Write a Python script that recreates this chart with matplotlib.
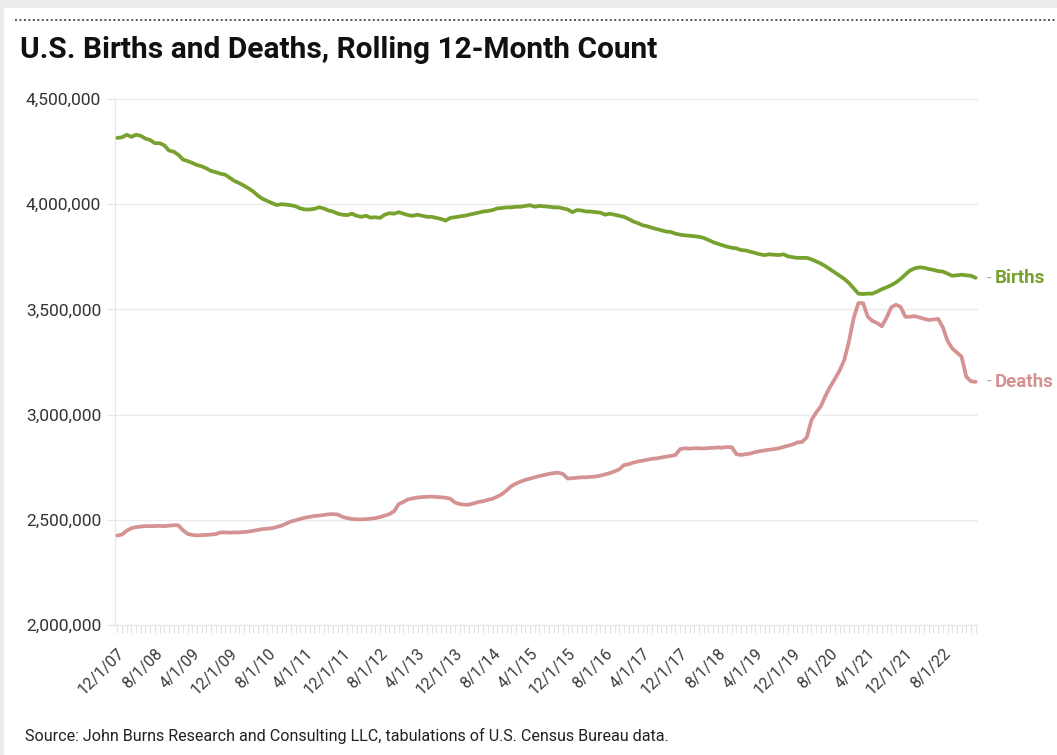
import numpy as np
import pandas as pd
import matplotlib
matplotlib.use("Agg")
import matplotlib.pyplot as plt
from matplotlib.ticker import FuncFormatter
from matplotlib.transforms import ScaledTranslation

plt.rcParams['font.family'] = ['Roboto', 'DejaVu Sans']

# monthly, 12/2007 .. 3/2023, rolling 12-month counts (thousands)
months = pd.date_range('2007-12-01', '2023-03-01', freq='MS')

births = [
    4315, 4318, 4330, 4320, 4330, 4325, 4312, 4305, 4290, 4290,
    4280, 4255, 4250, 4235, 4212, 4205, 4196, 4186, 4180, 4170,
    4158, 4152, 4145, 4140, 4125, 4110, 4100, 4088, 4075, 4060,
    4040, 4025, 4015, 4005, 3996, 4000, 3998, 3995, 3990, 3980,
    3975, 3975, 3978, 3985, 3980, 3970, 3965, 3955, 3950, 3948,
    3955, 3945, 3940, 3945, 3936, 3938, 3935, 3950, 3957, 3955,
    3962, 3955, 3948, 3945, 3950, 3945, 3940, 3940, 3935, 3930,
    3922, 3935, 3938, 3942, 3945, 3950, 3955, 3960, 3965, 3968,
    3972, 3980, 3982, 3985, 3985, 3988, 3988, 3992, 3995, 3988,
    3992, 3990, 3988, 3985, 3985, 3980, 3975, 3962, 3972, 3970,
    3965, 3965, 3962, 3960, 3950, 3955, 3950, 3945, 3940, 3930,
    3918, 3910, 3900, 3895, 3888, 3882, 3876, 3870, 3868, 3860,
    3855, 3852, 3850, 3848, 3845, 3840, 3830, 3820, 3812, 3805,
    3798, 3793, 3790, 3782, 3780, 3774, 3768, 3762, 3758, 3762,
    3760, 3758, 3762, 3752, 3748, 3745, 3745, 3745, 3738, 3728,
    3718, 3705, 3690, 3675, 3660, 3645, 3625, 3600, 3575, 3573,
    3575, 3575, 3585, 3596, 3605, 3615, 3628, 3645, 3665, 3685,
    3695, 3700, 3698, 3692, 3688, 3682, 3680, 3670, 3660, 3662,
    3665, 3662, 3660, 3650,
]

deaths = [
    2425, 2430, 2448, 2460, 2465, 2468, 2470, 2470, 2470, 2471,
    2470, 2472, 2474, 2474, 2450, 2433, 2428, 2426, 2427, 2428,
    2430, 2432, 2440, 2440, 2439, 2440, 2440, 2442, 2444, 2448,
    2452, 2456, 2458, 2460, 2466, 2472, 2482, 2492, 2498, 2504,
    2510, 2514, 2518, 2520, 2523, 2526, 2527, 2525, 2514, 2508,
    2504, 2502, 2502, 2503, 2505, 2508, 2513, 2520, 2527, 2540,
    2575, 2585, 2597, 2602, 2606, 2608, 2609, 2610, 2609, 2607,
    2605, 2600, 2582, 2575, 2572, 2572, 2578, 2585, 2588, 2595,
    2600, 2610, 2622, 2640, 2660, 2672, 2682, 2690, 2696, 2702,
    2708, 2713, 2718, 2722, 2724, 2718, 2696, 2698, 2700, 2702,
    2702, 2704, 2706, 2710, 2716, 2722, 2730, 2740, 2760, 2764,
    2772, 2777, 2781, 2786, 2790, 2792, 2796, 2800, 2804, 2808,
    2836, 2840, 2838, 2840, 2840, 2839, 2841, 2842, 2844, 2843,
    2846, 2845, 2812, 2808, 2812, 2815, 2822, 2826, 2830, 2833,
    2836, 2840, 2846, 2852, 2858, 2868, 2870, 2892, 2975, 3010,
    3040, 3090, 3133, 3170, 3210, 3260, 3350, 3460, 3530, 3530,
    3465, 3445, 3435, 3420, 3460, 3510, 3522, 3512, 3465, 3465,
    3468, 3462, 3455, 3450, 3452, 3455, 3415, 3350, 3315, 3295,
    3275, 3180, 3158, 3156,
]

births_color = '#78a22f'
deaths_color = '#d59293'

fig = plt.figure(figsize=(10.57, 7.55), dpi=100, facecolor='#ececec')
# white card
card = plt.Rectangle((4 / 1057, 0), 1, 1 - 8 / 755, transform=fig.transFigure,
                     facecolor='white', edgecolor='none', zorder=-10)
fig.add_artist(card)
fig.add_artist(plt.Line2D([15 / 1057, 1], [1 - 20 / 755, 1 - 20 / 755], transform=fig.transFigure,
                          color='#555555', lw=1.4, linestyle=(0, (1, 1.3))))

ax = fig.add_axes([115 / 1057, 1 - 625 / 755, (978 - 115) / 1057, (625 - 99) / 755])
ax.set_facecolor('white')

x = np.arange(len(months))
b = np.array(births) * 1000
d = np.array(deaths) * 1000
ax.plot(x, b, color=births_color, lw=2.7, solid_capstyle='round', solid_joinstyle='round', zorder=3)
ax.plot(x, d, color=deaths_color, lw=2.7, solid_capstyle='round', solid_joinstyle='round', zorder=3)

ax.set_xlim(-0.5, len(months) - 0.5)
ax.set_ylim(2_000_000, 4_500_000)
ax.set_yticks(np.arange(2_000_000, 4_500_001, 500_000))
ax.yaxis.set_major_formatter(FuncFormatter(lambda v, p: f'{int(v):,}'))
ax.grid(axis='y', color='#ebebeb', lw=1)
ax.set_axisbelow(True)

labels = [f'{m.month}/1/{m.year % 100:02d}' if i % 8 == 0 else '' for i, m in enumerate(months)]
ax.set_xticks(x)
ax.set_xticklabels(labels, rotation=45, ha='right', rotation_mode='anchor')
# nudge rotated labels a little right, like the original
shift = ScaledTranslation(5 / 100, 0, fig.dpi_scale_trans)
for lbl in ax.get_xticklabels():
    lbl.set_transform(lbl.get_transform() + shift)

for s in ['top', 'right']:
    ax.spines[s].set_visible(False)
ax.spines['left'].set_color('#e6e6e6')
ax.spines['bottom'].set_color('#e6e6e6')
ax.tick_params(axis='x', length=6, width=0.8, color='#e3e3e3', labelsize=11.5,
               labelcolor='#3a3a3a', pad=9)
ax.tick_params(axis='y', length=6, width=0.8, color='#e3e3e3', labelsize=12.5,
               labelcolor='#333333', pad=4)

# end labels
ax.annotate('-', (x[-1], b[-1]), xytext=(8, 0), textcoords='offset points',
            va='center', color='#aaaaaa', fontsize=12, annotation_clip=False)
ax.annotate('Births', (x[-1], b[-1]), xytext=(14, 0), textcoords='offset points',
            va='center', color=births_color, fontsize=13.5, fontweight='bold', annotation_clip=False)
ax.annotate('-', (x[-1], d[-1]), xytext=(8, 0), textcoords='offset points',
            va='center', color='#aaaaaa', fontsize=12, annotation_clip=False)
ax.annotate('Deaths', (x[-1], d[-1]), xytext=(14, 0), textcoords='offset points',
            va='center', color=deaths_color, fontsize=13.5, fontweight='bold', annotation_clip=False)

fig.text(20 / 1057, 1 - 50 / 755, 'U.S. Births and Deaths, Rolling 12-Month Count',
         fontsize=21.5, fontweight='bold', color='#111111', va='center', ha='left')
fig.text(25 / 1057, 1 - 736 / 755,
         'Source: John Burns Research and Consulting LLC, tabulations of U.S. Census Bureau data.',
         fontsize=11.6, color='#222222', va='center', ha='left')

fig.savefig('out.png', dpi=100, facecolor=fig.get_facecolor())
